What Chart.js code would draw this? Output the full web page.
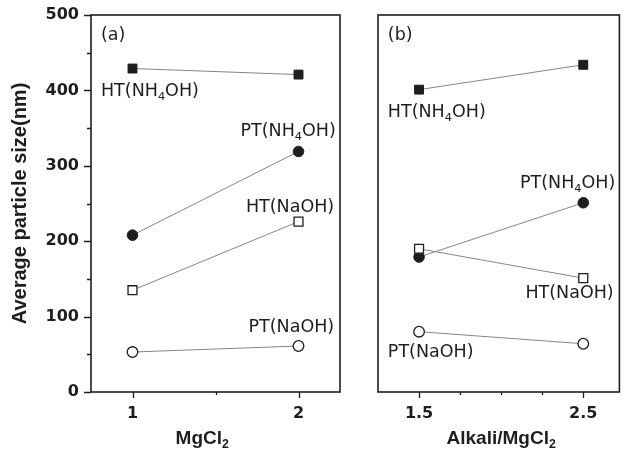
<!DOCTYPE html>
<html>
<head>
<meta charset="utf-8">
<script src="https://cdn.jsdelivr.net/npm/chart.js@4.4.1/dist/chart.umd.min.js"></script>
<style>
  body { margin: 0; background: #fff; }
  #wrap { position: relative; width: 627px; height: 453px; }
  canvas { position: absolute; top: 0; }
  #chartA { left: 0; }
  #chartB { left: 352px; }
</style>
</head>
<body>
<div id="wrap">
  <canvas id="chartA" width="352" height="453"></canvas>
  <canvas id="chartB" width="275" height="453"></canvas>
</div>
<script>
// panel (a): MgCl2 concentration
const xA = [1, 2];
const htNh4A = [429, 421];
const ptNh4A = [208, 319];
const htNaA = [135, 226];
const ptNaA = [53, 61];

// panel (b): Alkali/MgCl2 ratio
const xB = [1.5, 2.5];
const htNh4B = [401, 434];
const ptNh4B = [179, 251];
const htNaB = [190, 151];
const ptNaB = [80, 64];

// ticks
const yTicks = [0, 100, 200, 300, 400, 500];
const yMinor = [50, 150, 250, 350, 450];
const xTicksA = [1, 2];
const xMinorA = [1.5];
const xTicksB = [1.5, 2.5];
const xMinorB = [1.75, 2, 2.25];

const lineGray = '#858585';
const ink = '#1e1e1e';

function pts(xs, ys) {
  return xs.map((x, i) => ({x: x, y: ys[i]}));
}

function series(label, xs, ys, shape, filled) {
  return {
    label: label,
    data: pts(xs, ys),
    borderColor: lineGray,
    borderWidth: 1,
    pointStyle: shape,
    pointRadius: shape == 'rect' ? 6.3 : 5.3,
    pointBackgroundColor: filled ? ink : '#fff',
    pointBorderColor: ink,
    pointBorderWidth: filled ? 1 : 1.3,
    showLine: true,
    fill: false
  };
}

// draws text with "_4" style subscripts
function drawRich(ctx, str, x, y, align, size, weight, family) {
  let parts = str.split(/_(\d)/);
  let subSize = size * 0.65;
  let widths = [];
  let total = 0;
  parts.forEach((p, i) => {
    ctx.font = weight + ' ' + (i % 2 ? subSize : size) + 'px ' + family;
    let w = ctx.measureText(p).width;
    widths.push(w);
    total += w;
  });
  let cx = x;
  if (align == 'right') cx = x - total;
  if (align == 'center') cx = x - total / 2;
  ctx.textAlign = 'left';
  ctx.textBaseline = 'middle';
  parts.forEach((p, i) => {
    ctx.font = weight + ' ' + (i % 2 ? subSize : size) + 'px ' + family;
    ctx.fillText(p, cx, i % 2 ? y + size * 0.32 : y);
    cx += widths[i];
  });
}

const framePlugin = {
  id: 'frame',
  afterDraw(chart, args, opts) {
    let ctx = chart.ctx;
    let a = chart.chartArea;
    let xs = chart.scales.x, ys = chart.scales.y;
    ctx.save();
    ctx.strokeStyle = ink;
    ctx.lineWidth = 1.6;
    ctx.strokeRect(a.left, a.top, a.right - a.left, a.bottom - a.top);

    ctx.lineWidth = 1.3;
    ctx.beginPath();
    opts.xMajor.forEach(v => {
      let px = Math.round(xs.getPixelForValue(v)) + 0.5;
      ctx.moveTo(px, a.bottom); ctx.lineTo(px, a.bottom + 6);
    });
    opts.xMinor.forEach(v => {
      let px = Math.round(xs.getPixelForValue(v)) + 0.5;
      ctx.moveTo(px, a.bottom); ctx.lineTo(px, a.bottom + 3);
    });
    if (opts.yMajor) {
      opts.yMajor.forEach(v => {
        let py = Math.round(ys.getPixelForValue(v)) + 0.5;
        ctx.moveTo(a.left, py); ctx.lineTo(a.left - 7, py);
      });
      opts.yMinor.forEach(v => {
        let py = Math.round(ys.getPixelForValue(v)) + 0.5;
        ctx.moveTo(a.left, py); ctx.lineTo(a.left - 4, py);
      });
    }
    ctx.stroke();

    ctx.fillStyle = ink;
    opts.labels.forEach(l => {
      drawRich(ctx, l.t, xs.getPixelForValue(l.x), ys.getPixelForValue(l.y),
        l.align, 17.5, 'normal', '"DejaVu Sans"');
    });
    drawRich(ctx, opts.xTitle, xs.getPixelForValue(opts.xTitleAt), a.bottom + 47,
      'center', 19, 'bold', '"Liberation Sans", Arial');
    ctx.restore();
  }
};

const tickFont = {family: '"DejaVu Sans"', weight: 'bold', size: 16};

function makeChart(id, datasets, xmin, xmax, xTicks, xMinor, showY, pad, frame) {
  return new Chart(document.getElementById(id), {
    type: 'scatter',
    data: {datasets: datasets},
    options: {
      responsive: false,
      animation: false,
      layout: {padding: pad},
      plugins: {
        legend: {display: false},
        tooltip: {enabled: false},
        frame: frame
      },
      scales: {
        x: {
          type: 'linear',
          min: xmin, max: xmax,
          grid: {display: false, drawTicks: false},
          border: {display: false},
          afterBuildTicks: s => { s.ticks = xTicks.map(v => ({value: v})); },
          afterFit: s => { s.height = 61; s.paddingLeft = 0; s.paddingRight = 0; },
          ticks: {
            color: ink, font: tickFont, padding: 12, maxRotation: 0,
            callback: v => String(v)
          }
        },
        y: {
          display: showY,
          min: 0, max: 500,
          grid: {display: false, drawTicks: false},
          border: {display: false},
          afterBuildTicks: s => { s.ticks = yTicks.map(v => ({value: v})); },
          afterFit: s => {
            if (showY) s.width = 91;
            // labels near the ends should not push the plot box in
            s.paddingTop = 0;
            s.paddingBottom = 0;
          },
          ticks: {color: ink, font: tickFont, padding: 12},
          title: {
            display: showY,
            text: 'Average particle size(nm)',
            color: ink,
            font: {family: '"Liberation Sans", Arial', weight: 'bold', size: 20},
            padding: {top: 8, bottom: 0}
          }
        }
      }
    },
    plugins: [framePlugin]
  });
}

makeChart('chartA', [
  series('HT(NH4OH)', xA, htNh4A, 'rect', true),
  series('HT(NaOH)', xA, htNaA, 'rect', false),
  series('PT(NH4OH)', xA, ptNh4A, 'circle', true),
  series('PT(NaOH)', xA, ptNaA, 'circle', false)
], 0.75, 2.25, xTicksA, xMinorA, true, {top: 15, right: 12, left: 0, bottom: 0}, {
  xMajor: xTicksA, xMinor: xMinorA, yMajor: yTicks, yMinor: yMinor,
  xTitle: 'MgCl_2', xTitleAt: 1.42,
  labels: [
    {t: '(a)', x: 0.81, y: 473, align: 'left'},
    {t: 'HT(NH_4OH)', x: 0.81, y: 399, align: 'left'},
    {t: 'PT(NH_4OH)', x: 2.225, y: 345, align: 'right'},
    {t: 'HT(NaOH)', x: 2.215, y: 245, align: 'right'},
    {t: 'PT(NaOH)', x: 2.215, y: 85, align: 'right'}
  ]
});

makeChart('chartB', [
  series('HT(NH4OH)', xB, htNh4B, 'rect', true),
  series('HT(NaOH)', xB, htNaB, 'rect', false),
  series('PT(NH4OH)', xB, ptNh4B, 'circle', true),
  series('PT(NaOH)', xB, ptNaB, 'circle', false)
], 1.25, 2.72, xTicksB, xMinorB, false, {top: 15, right: 2, left: 26, bottom: 0}, {
  xMajor: xTicksB, xMinor: xMinorB,
  xTitle: 'Alkali/MgCl_2', xTitleAt: 2.0,
  labels: [
    {t: '(b)', x: 1.31, y: 473, align: 'left'},
    {t: 'HT(NH_4OH)', x: 1.31, y: 371, align: 'left'},
    {t: 'PT(NH_4OH)', x: 2.695, y: 277, align: 'right'},
    {t: 'HT(NaOH)', x: 2.685, y: 131, align: 'right'},
    {t: 'PT(NaOH)', x: 1.31, y: 52, align: 'left'}
  ]
});
</script>
</body>
</html>
